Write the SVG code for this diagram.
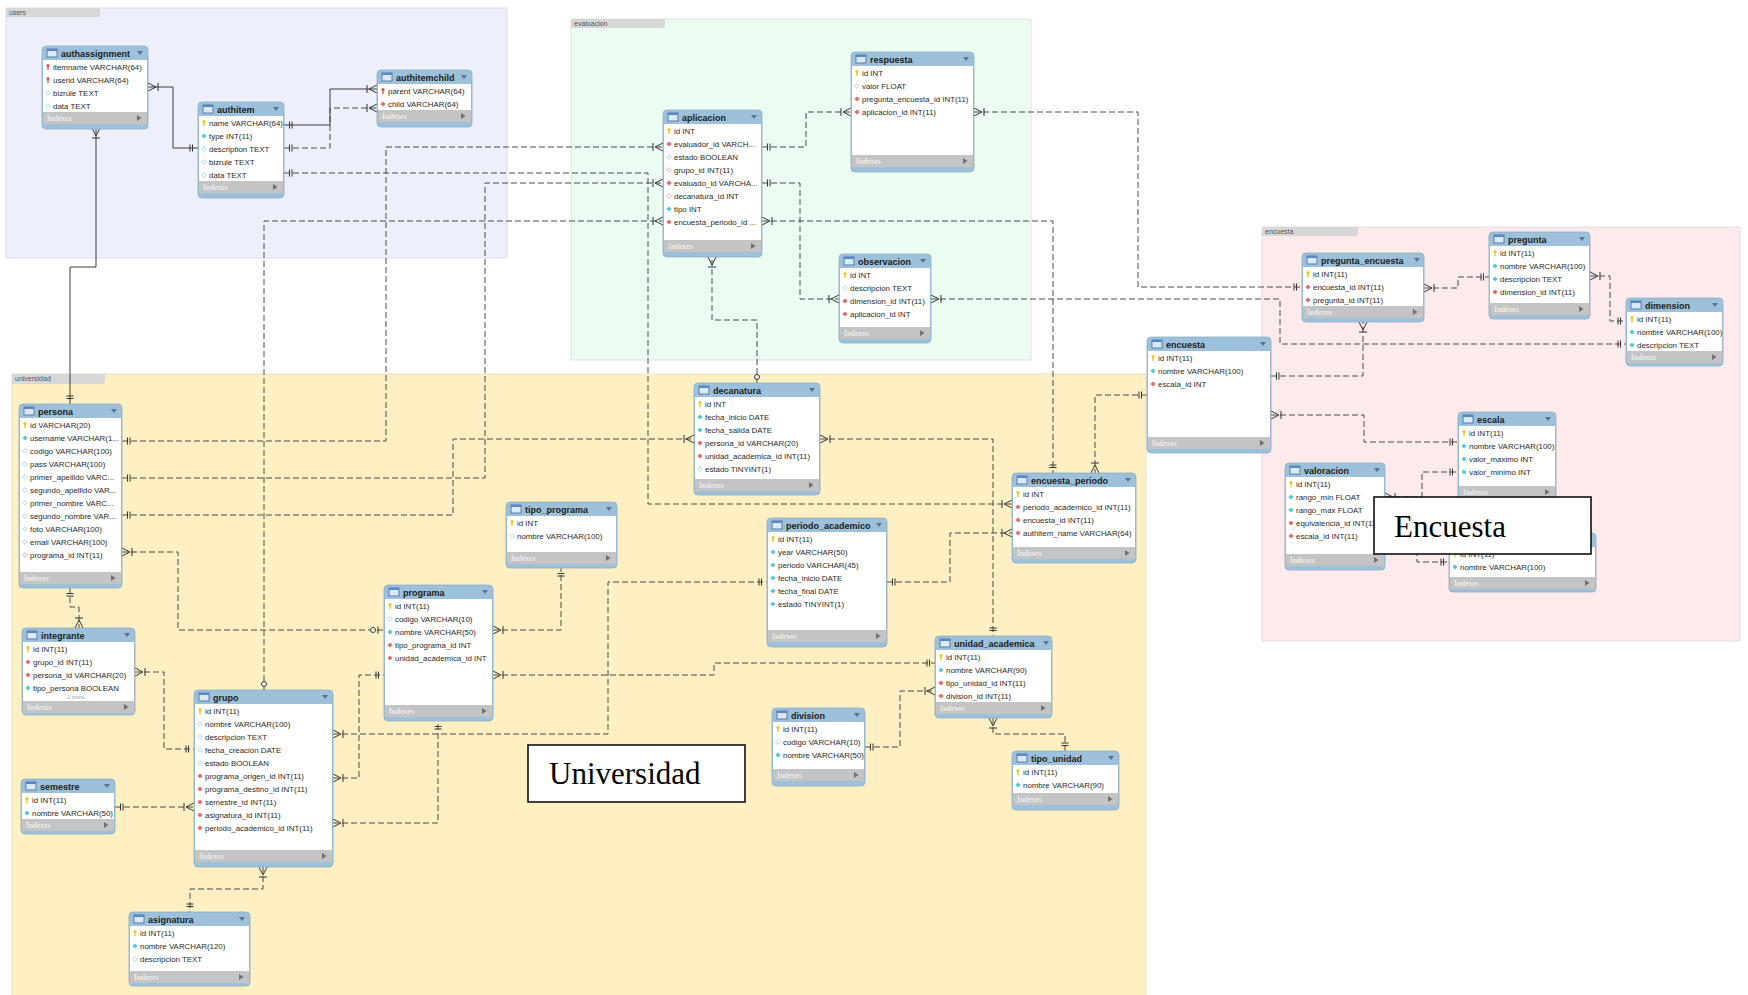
<svg xmlns="http://www.w3.org/2000/svg" xmlns:xlink="http://www.w3.org/1999/xlink" width="1748" height="995" viewBox="0 0 1748 995">
<defs>
<style>
.frame{fill:#9dc1da;stroke:#8eadc6;stroke-width:0.8}
.body{fill:#fff}
.idx{fill:#c4c4c4}
.t{font:bold 9px "Liberation Sans",Arial,sans-serif;fill:#1b1b1b}
.r{font:7.9px "Liberation Sans",Arial,sans-serif;fill:#2a2a2a}
.ix{font:bold 7.5px "Liberation Serif",serif;fill:#ececec}
.more{font:5.5px "Liberation Sans",sans-serif;fill:#999}
.lname{font:7px "Liberation Sans",sans-serif;fill:#555}
.tab{fill:#d7d7d7}
.rel{fill:none;stroke:#3c3c3c;stroke-width:1}
.dash{stroke:#4a4a4a;stroke-dasharray:6 3}
.note{fill:#fff;stroke:#111;stroke-width:1.6}
.note-t{font:31px "Liberation Serif","Times New Roman",serif;fill:#000}
</style>
<g id="ico-tbl"><rect x="0" y="0" width="10" height="8" fill="#dde8f7" stroke="#3d6aa8" stroke-width="0.8"/><rect x="0" y="0" width="10" height="2" fill="#5b86c0"/></g>
<path id="tri" d="M-3,-2H3L0,2Z" fill="#5d7286"/>
<path id="tri-r" d="M-2,-3V3L2.5,0Z" fill="#707070"/>
<g id="pk"><circle cx="0" cy="-1.5" r="1.6" fill="#f0c419"/><rect x="-0.7" y="-1" width="1.4" height="4.2" fill="#f0c419"/></g>
<g id="fkpk"><circle cx="0" cy="-1.5" r="1.6" fill="#e0554c"/><rect x="-0.7" y="-1" width="1.4" height="4.2" fill="#e0554c"/></g>
<path id="d-nn" d="M0,-2.6L2.6,0L0,2.6L-2.6,0Z" fill="#55c6d6"/>
<path id="d-nl" d="M0,-2.4L2.4,0L0,2.4L-2.4,0Z" fill="#fff" stroke="#86c9d2" stroke-width="0.7"/>
<path id="d-fk" d="M0,-2.6L2.6,0L0,2.6L-2.6,0Z" fill="#e36c6c"/>
<path id="d-fkn" d="M0,-2.4L2.4,0L0,2.4L-2.4,0Z" fill="#fff" stroke="#e08a8a" stroke-width="0.7"/>
<marker id="m-one" viewBox="-14 -6 16 12" refX="0" refY="0" markerWidth="16" markerHeight="12" markerUnits="userSpaceOnUse" orient="auto-start-reverse">
<path d="M-8,-3.5V3.5M-5.5,-3.5V3.5" fill="none" stroke="#333" stroke-width="1"/>
</marker>
<marker id="m-many" viewBox="-14 -6 16 12" refX="0" refY="0" markerWidth="16" markerHeight="12" markerUnits="userSpaceOnUse" orient="auto-start-reverse">
<path d="M-10,-4V4M-8,0L0,-4M-8,0L0,4" fill="none" stroke="#333" stroke-width="1"/>
</marker>
<marker id="m-zo" viewBox="-16 -6 18 12" refX="0" refY="0" markerWidth="18" markerHeight="12" markerUnits="userSpaceOnUse" orient="auto-start-reverse">
<circle cx="-11" cy="0" r="2.5" fill="#fff" stroke="#333" stroke-width="1"/><path d="M-6,-3.5V3.5" fill="none" stroke="#333" stroke-width="1"/>
</marker>
<marker id="m-opt" viewBox="-12 -6 14 12" refX="0" refY="0" markerWidth="14" markerHeight="12" markerUnits="userSpaceOnUse" orient="auto-start-reverse">
<circle cx="-6" cy="0" r="2.5" fill="#fff" stroke="#333" stroke-width="1"/>
</marker>
</defs>

<rect width="1748" height="995" fill="#fff"/>

<!-- layers -->
<g id="layer-users">
<rect x="6" y="8" width="501" height="250" fill="#edeffb" stroke="#dcdde8"/>
<path class="tab" d="M6,8H100V14Q100,17 97,17H6Z"/>
<text class="lname" x="9" y="15">users</text>
</g>
<g id="layer-evaluacion">
<rect x="571" y="19" width="460" height="341" fill="#ebfcf1" stroke="#dde6df"/>
<path class="tab" d="M571,19H665V25Q665,28 662,28H571Z"/>
<text class="lname" x="574" y="26">evaluacion</text>
</g>
<g id="layer-encuesta">
<rect x="1262" y="227" width="478" height="414" fill="#fdeaea" stroke="#e6dcdc"/>
<path class="tab" d="M1262,227H1358V233Q1358,236 1355,236H1262Z"/>
<text class="lname" x="1265" y="234">encuesta</text>
</g>
<g id="layer-universidad">
<rect x="12" y="374" width="1134" height="625" fill="#fef0c2" stroke="#e6e0cc"/>
<path class="tab" d="M12,374H105V380Q105,384 102,384H12Z"/>
<text class="lname" x="15" y="381">universidad</text>
</g>

<!-- relationships -->
<g id="connectors">
<path class="rel" d="M148,87H173V148H198" marker-start="url(#m-many)" marker-end="url(#m-one)"/>
<path class="rel" d="M284,125H330V89H377" marker-start="url(#m-one)" marker-end="url(#m-many)"/>
<path class="rel dash" d="M284,148H330V108H377" marker-start="url(#m-one)" marker-end="url(#m-many)"/>
<path class="rel" d="M96,128V267H70V404" marker-start="url(#m-many)" marker-end="url(#m-one)"/>
<path class="rel dash" d="M284,173H648V504H1012" marker-start="url(#m-one)" marker-end="url(#m-many)"/>
<path class="rel dash" d="M122,441H386V147H663" marker-start="url(#m-one)" marker-end="url(#m-many)"/>
<path class="rel dash" d="M122,478H485V183H663" marker-start="url(#m-one)" marker-end="url(#m-many)"/>
<path class="rel dash" d="M122,515H453V439H694" marker-start="url(#m-one)" marker-end="url(#m-many)"/>
<path class="rel dash" d="M264,690V221H663" marker-start="url(#m-opt)" marker-end="url(#m-many)"/>
<path class="rel dash" d="M122,552H178V630H384" marker-start="url(#m-many)" marker-end="url(#m-zo)"/>
<path class="rel dash" d="M70,588V607H79V628" marker-start="url(#m-one)" marker-end="url(#m-many)"/>
<path class="rel dash" d="M135,672H164V749H194" marker-start="url(#m-many)" marker-end="url(#m-one)"/>
<path class="rel dash" d="M115,807H194" marker-start="url(#m-one)" marker-end="url(#m-many)"/>
<path class="rel dash" d="M263,867V889H190V912" marker-start="url(#m-many)" marker-end="url(#m-one)"/>
<path class="rel dash" d="M333,734H608V582H767" marker-start="url(#m-many)" marker-end="url(#m-one)"/>
<path class="rel dash" d="M333,778H359V675H384" marker-start="url(#m-many)" marker-end="url(#m-one)"/>
<path class="rel dash" d="M333,823H438V721" marker-start="url(#m-many)" marker-end="url(#m-one)"/>
<path class="rel dash" d="M493,630H561V568" marker-start="url(#m-many)" marker-end="url(#m-one)"/>
<path class="rel dash" d="M493,675H714V663H935" marker-start="url(#m-many)" marker-end="url(#m-one)"/>
<path class="rel dash" d="M865,747H900V691H935" marker-start="url(#m-one)" marker-end="url(#m-many)"/>
<path class="rel dash" d="M993,718V734H1065V751" marker-start="url(#m-many)" marker-end="url(#m-one)"/>
<path class="rel dash" d="M820,439H993V636" marker-start="url(#m-many)" marker-end="url(#m-one)"/>
<path class="rel dash" d="M757,383V320H712V257" marker-start="url(#m-opt)" marker-end="url(#m-many)"/>
<path class="rel dash" d="M762,147H806V112H851" marker-start="url(#m-one)" marker-end="url(#m-many)"/>
<path class="rel dash" d="M762,183H800V299H839" marker-start="url(#m-one)" marker-end="url(#m-many)"/>
<path class="rel dash" d="M762,221H1053V473" marker-start="url(#m-many)" marker-end="url(#m-one)"/>
<path class="rel dash" d="M974,112H1138V287H1302" marker-start="url(#m-many)" marker-end="url(#m-one)"/>
<path class="rel dash" d="M931,299H1280V344H1626" marker-start="url(#m-many)" marker-end="url(#m-one)"/>
<path class="rel dash" d="M887,582H950V533H1012" marker-start="url(#m-one)" marker-end="url(#m-many)"/>
<path class="rel dash" d="M1147,395H1095V473" marker-start="url(#m-one)" marker-end="url(#m-many)"/>
<path class="rel dash" d="M1271,376H1363V322" marker-start="url(#m-one)" marker-end="url(#m-many)"/>
<path class="rel dash" d="M1424,288H1458V277H1489" marker-start="url(#m-many)" marker-end="url(#m-one)"/>
<path class="rel dash" d="M1590,276H1610V321H1626" marker-start="url(#m-many)" marker-end="url(#m-one)"/>
<path class="rel dash" d="M1271,415H1364V442H1458" marker-start="url(#m-many)" marker-end="url(#m-one)"/>
<path class="rel dash" d="M1385,497H1422V472H1458" marker-start="url(#m-many)" marker-end="url(#m-one)"/>
<path class="rel dash" d="M1385,510H1417V562H1449" marker-start="url(#m-many)" marker-end="url(#m-one)"/>
</g>

<!-- tables -->
<g id="tbl-authassignment" transform="translate(42,46)">
<rect class="frame" width="106" height="83" rx="4"/>
<rect class="body" x="1" y="14" width="104" height="52"/>
<rect class="idx" x="1" y="66" width="104" height="12"/>
<use href="#ico-tbl" x="5" y="3"/><text class="t" x="19" y="10.5">authassignment</text><use href="#tri" x="98" y="7"/>
<use href="#fkpk" x="6" y="21"/><text class="r" x="11" y="23.8">itemname VARCHAR(64)</text>
<use href="#fkpk" x="6" y="34"/><text class="r" x="11" y="36.8">userid VARCHAR(64)</text>
<use href="#d-nl" x="6" y="47"/><text class="r" x="11" y="49.8">bizrule TEXT</text>
<use href="#d-nl" x="6" y="60"/><text class="r" x="11" y="62.8">data TEXT</text>
<text class="ix" x="5" y="75">Indexes</text><use href="#tri-r" x="97" y="72"/>
</g>

<g id="tbl-authitem" transform="translate(198,102)">
<rect class="frame" width="86" height="96" rx="4"/>
<rect class="body" x="1" y="14" width="84" height="65"/>
<rect class="idx" x="1" y="79" width="84" height="12"/>
<use href="#ico-tbl" x="5" y="3"/><text class="t" x="19" y="10.5">authitem</text><use href="#tri" x="78" y="7"/>
<use href="#pk" x="6" y="21"/><text class="r" x="11" y="23.8">name VARCHAR(64)</text>
<use href="#d-nn" x="6" y="34"/><text class="r" x="11" y="36.8">type INT(11)</text>
<use href="#d-nl" x="6" y="47"/><text class="r" x="11" y="49.8">description TEXT</text>
<use href="#d-nl" x="6" y="60"/><text class="r" x="11" y="62.8">bizrule TEXT</text>
<use href="#d-nl" x="6" y="73"/><text class="r" x="11" y="75.8">data TEXT</text>
<text class="ix" x="5" y="88">Indexes</text><use href="#tri-r" x="77" y="85"/>
</g>

<g id="tbl-authitemchild" transform="translate(377,70)">
<rect class="frame" width="95" height="57" rx="4"/>
<rect class="body" x="1" y="14" width="93" height="26"/>
<rect class="idx" x="1" y="40" width="93" height="12"/>
<use href="#ico-tbl" x="5" y="3"/><text class="t" x="19" y="10.5">authitemchild</text><use href="#tri" x="87" y="7"/>
<use href="#fkpk" x="6" y="21"/><text class="r" x="11" y="23.8">parent VARCHAR(64)</text>
<use href="#d-fk" x="6" y="34"/><text class="r" x="11" y="36.8">child VARCHAR(64)</text>
<text class="ix" x="5" y="49">Indexes</text><use href="#tri-r" x="86" y="46"/>
</g>

<g id="tbl-respuesta" transform="translate(851,52)">
<rect class="frame" width="123" height="120" rx="4"/>
<rect class="body" x="1" y="14" width="121" height="89"/>
<rect class="idx" x="1" y="103" width="121" height="12"/>
<use href="#ico-tbl" x="5" y="3"/><text class="t" x="19" y="10.5">respuesta</text><use href="#tri" x="115" y="7"/>
<use href="#pk" x="6" y="21"/><text class="r" x="11" y="23.8">id INT</text>
<use href="#d-nl" x="6" y="34"/><text class="r" x="11" y="36.8">valor FLOAT</text>
<use href="#d-fk" x="6" y="47"/><text class="r" x="11" y="49.8">pregunta_encuesta_id INT(11)</text>
<use href="#d-fk" x="6" y="60"/><text class="r" x="11" y="62.8">aplicacion_id INT(11)</text>
<text class="ix" x="5" y="112">Indexes</text><use href="#tri-r" x="114" y="109"/>
</g>

<g id="tbl-aplicacion" transform="translate(663,110)">
<rect class="frame" width="99" height="147" rx="4"/>
<rect class="body" x="1" y="14" width="97" height="116"/>
<rect class="idx" x="1" y="130" width="97" height="12"/>
<use href="#ico-tbl" x="5" y="3"/><text class="t" x="19" y="10.5">aplicacion</text><use href="#tri" x="91" y="7"/>
<use href="#pk" x="6" y="21"/><text class="r" x="11" y="23.8">id INT</text>
<use href="#d-fk" x="6" y="34"/><text class="r" x="11" y="36.8">evaluador_id VARCH...</text>
<use href="#d-nl" x="6" y="47"/><text class="r" x="11" y="49.8">estado BOOLEAN</text>
<use href="#d-fkn" x="6" y="60"/><text class="r" x="11" y="62.8">grupo_id INT(11)</text>
<use href="#d-fk" x="6" y="73"/><text class="r" x="11" y="75.8">evaluado_id VARCHA...</text>
<use href="#d-fkn" x="6" y="86"/><text class="r" x="11" y="88.8">decanatura_id INT</text>
<use href="#d-nn" x="6" y="99"/><text class="r" x="11" y="101.8">tipo INT</text>
<use href="#d-fk" x="6" y="112"/><text class="r" x="11" y="114.8">encuesta_periodo_id ...</text>
<text class="ix" x="5" y="139">Indexes</text><use href="#tri-r" x="90" y="136"/>
</g>

<g id="tbl-observacion" transform="translate(839,254)">
<rect class="frame" width="92" height="89" rx="4"/>
<rect class="body" x="1" y="14" width="90" height="59"/>
<rect class="idx" x="1" y="73" width="90" height="12"/>
<use href="#ico-tbl" x="5" y="3"/><text class="t" x="19" y="10.5">observacion</text><use href="#tri" x="84" y="7"/>
<use href="#pk" x="6" y="21"/><text class="r" x="11" y="23.8">id INT</text>
<use href="#d-nl" x="6" y="34"/><text class="r" x="11" y="36.8">descripcion TEXT</text>
<use href="#d-fk" x="6" y="47"/><text class="r" x="11" y="49.8">dimension_id INT(11)</text>
<use href="#d-fk" x="6" y="60"/><text class="r" x="11" y="62.8">aplicacion_id INT</text>
<text class="ix" x="5" y="82">Indexes</text><use href="#tri-r" x="83" y="79"/>
</g>

<g id="tbl-persona" transform="translate(19,404)">
<rect class="frame" width="103" height="184" rx="4"/>
<rect class="body" x="1" y="14" width="101" height="154"/>
<rect class="idx" x="1" y="168" width="101" height="12"/>
<use href="#ico-tbl" x="5" y="3"/><text class="t" x="19" y="10.5">persona</text><use href="#tri" x="95" y="7"/>
<use href="#pk" x="6" y="21"/><text class="r" x="11" y="23.8">id VARCHAR(20)</text>
<use href="#d-nn" x="6" y="34"/><text class="r" x="11" y="36.8">username VARCHAR(1...</text>
<use href="#d-nl" x="6" y="47"/><text class="r" x="11" y="49.8">codigo VARCHAR(100)</text>
<use href="#d-nl" x="6" y="60"/><text class="r" x="11" y="62.8">pass VARCHAR(100)</text>
<use href="#d-nl" x="6" y="73"/><text class="r" x="11" y="75.8">primer_apellido VARC...</text>
<use href="#d-nl" x="6" y="86"/><text class="r" x="11" y="88.8">segundo_apellido VAR...</text>
<use href="#d-nl" x="6" y="99"/><text class="r" x="11" y="101.8">primer_nombre VARC...</text>
<use href="#d-nl" x="6" y="112"/><text class="r" x="11" y="114.8">segundo_nombre VAR...</text>
<use href="#d-nl" x="6" y="125"/><text class="r" x="11" y="127.8">foto VARCHAR(100)</text>
<use href="#d-nl" x="6" y="138"/><text class="r" x="11" y="140.8">email VARCHAR(100)</text>
<use href="#d-fkn" x="6" y="151"/><text class="r" x="11" y="153.8">programa_id INT(11)</text>
<text class="ix" x="5" y="177">Indexes</text><use href="#tri-r" x="94" y="174"/>
</g>

<g id="tbl-integrante" transform="translate(22,628)">
<rect class="frame" width="113" height="87" rx="4"/>
<rect class="body" x="1" y="14" width="111" height="59"/>
<rect class="idx" x="1" y="73" width="111" height="12"/>
<use href="#ico-tbl" x="5" y="3"/><text class="t" x="19" y="10.5">integrante</text><use href="#tri" x="105" y="7"/>
<use href="#pk" x="6" y="21"/><text class="r" x="11" y="23.8">id INT(11)</text>
<use href="#d-fk" x="6" y="34"/><text class="r" x="11" y="36.8">grupo_id INT(11)</text>
<use href="#d-fk" x="6" y="47"/><text class="r" x="11" y="49.8">persona_id VARCHAR(20)</text>
<use href="#d-nn" x="6" y="60"/><text class="r" x="11" y="62.8">tipo_persona BOOLEAN</text>
<text class="more" x="56" y="71" text-anchor="middle">1 more...</text>
<text class="ix" x="5" y="82">Indexes</text><use href="#tri-r" x="104" y="79"/>
</g>

<g id="tbl-semestre" transform="translate(21,779)">
<rect class="frame" width="94" height="55" rx="4"/>
<rect class="body" x="1" y="14" width="92" height="26"/>
<rect class="idx" x="1" y="40" width="92" height="12"/>
<use href="#ico-tbl" x="5" y="3"/><text class="t" x="19" y="10.5">semestre</text><use href="#tri" x="86" y="7"/>
<use href="#pk" x="6" y="21"/><text class="r" x="11" y="23.8">id INT(11)</text>
<use href="#d-nn" x="6" y="34"/><text class="r" x="11" y="36.8">nombre VARCHAR(50)</text>
<text class="ix" x="5" y="49">Indexes</text><use href="#tri-r" x="85" y="46"/>
</g>

<g id="tbl-grupo" transform="translate(194,690)">
<rect class="frame" width="139" height="177" rx="4"/>
<rect class="body" x="1" y="14" width="137" height="146"/>
<rect class="idx" x="1" y="160" width="137" height="12"/>
<use href="#ico-tbl" x="5" y="3"/><text class="t" x="19" y="10.5">grupo</text><use href="#tri" x="131" y="7"/>
<use href="#pk" x="6" y="21"/><text class="r" x="11" y="23.8">id INT(11)</text>
<use href="#d-nl" x="6" y="34"/><text class="r" x="11" y="36.8">nombre VARCHAR(100)</text>
<use href="#d-nl" x="6" y="47"/><text class="r" x="11" y="49.8">descripcion TEXT</text>
<use href="#d-nl" x="6" y="60"/><text class="r" x="11" y="62.8">fecha_creacion DATE</text>
<use href="#d-nl" x="6" y="73"/><text class="r" x="11" y="75.8">estado BOOLEAN</text>
<use href="#d-fk" x="6" y="86"/><text class="r" x="11" y="88.8">programa_origen_id INT(11)</text>
<use href="#d-fk" x="6" y="99"/><text class="r" x="11" y="101.8">programa_destino_id INT(11)</text>
<use href="#d-fk" x="6" y="112"/><text class="r" x="11" y="114.8">semestre_id INT(11)</text>
<use href="#d-fk" x="6" y="125"/><text class="r" x="11" y="127.8">asignatura_id INT(11)</text>
<use href="#d-fk" x="6" y="138"/><text class="r" x="11" y="140.8">periodo_academico_id INT(11)</text>
<text class="ix" x="5" y="169">Indexes</text><use href="#tri-r" x="130" y="166"/>
</g>

<g id="tbl-asignatura" transform="translate(129,912)">
<rect class="frame" width="121" height="74" rx="4"/>
<rect class="body" x="1" y="14" width="119" height="45"/>
<rect class="idx" x="1" y="59" width="119" height="12"/>
<use href="#ico-tbl" x="5" y="3"/><text class="t" x="19" y="10.5">asignatura</text><use href="#tri" x="113" y="7"/>
<use href="#pk" x="6" y="21"/><text class="r" x="11" y="23.8">id INT(11)</text>
<use href="#d-nn" x="6" y="34"/><text class="r" x="11" y="36.8">nombre VARCHAR(120)</text>
<use href="#d-nl" x="6" y="47"/><text class="r" x="11" y="49.8">descripcion TEXT</text>
<text class="ix" x="5" y="68">Indexes</text><use href="#tri-r" x="112" y="65"/>
</g>

<g id="tbl-programa" transform="translate(384,585)">
<rect class="frame" width="109" height="136" rx="4"/>
<rect class="body" x="1" y="14" width="107" height="106"/>
<rect class="idx" x="1" y="120" width="107" height="12"/>
<use href="#ico-tbl" x="5" y="3"/><text class="t" x="19" y="10.5">programa</text><use href="#tri" x="101" y="7"/>
<use href="#pk" x="6" y="21"/><text class="r" x="11" y="23.8">id INT(11)</text>
<use href="#d-nl" x="6" y="34"/><text class="r" x="11" y="36.8">codigo VARCHAR(10)</text>
<use href="#d-nn" x="6" y="47"/><text class="r" x="11" y="49.8">nombre VARCHAR(50)</text>
<use href="#d-fk" x="6" y="60"/><text class="r" x="11" y="62.8">tipo_programa_id INT</text>
<use href="#d-fk" x="6" y="73"/><text class="r" x="11" y="75.8">unidad_academica_id INT</text>
<text class="ix" x="5" y="129">Indexes</text><use href="#tri-r" x="100" y="126"/>
</g>

<g id="tbl-tipo_programa" transform="translate(506,502)">
<rect class="frame" width="111" height="66" rx="4"/>
<rect class="body" x="1" y="14" width="109" height="36"/>
<rect class="idx" x="1" y="50" width="109" height="12"/>
<use href="#ico-tbl" x="5" y="3"/><text class="t" x="19" y="10.5">tipo_programa</text><use href="#tri" x="103" y="7"/>
<use href="#pk" x="6" y="21"/><text class="r" x="11" y="23.8">id INT</text>
<use href="#d-nl" x="6" y="34"/><text class="r" x="11" y="36.8">nombre VARCHAR(100)</text>
<text class="ix" x="5" y="59">Indexes</text><use href="#tri-r" x="102" y="56"/>
</g>

<g id="tbl-decanatura" transform="translate(694,383)">
<rect class="frame" width="126" height="112" rx="4"/>
<rect class="body" x="1" y="14" width="124" height="82"/>
<rect class="idx" x="1" y="96" width="124" height="12"/>
<use href="#ico-tbl" x="5" y="3"/><text class="t" x="19" y="10.5">decanatura</text><use href="#tri" x="118" y="7"/>
<use href="#pk" x="6" y="21"/><text class="r" x="11" y="23.8">id INT</text>
<use href="#d-nn" x="6" y="34"/><text class="r" x="11" y="36.8">fecha_inicio DATE</text>
<use href="#d-nn" x="6" y="47"/><text class="r" x="11" y="49.8">fecha_salida DATE</text>
<use href="#d-fk" x="6" y="60"/><text class="r" x="11" y="62.8">persona_id VARCHAR(20)</text>
<use href="#d-fk" x="6" y="73"/><text class="r" x="11" y="75.8">unidad_academica_id INT(11)</text>
<use href="#d-nl" x="6" y="86"/><text class="r" x="11" y="88.8">estado TINYINT(1)</text>
<text class="ix" x="5" y="105">Indexes</text><use href="#tri-r" x="117" y="102"/>
</g>

<g id="tbl-periodo_academico" transform="translate(767,518)">
<rect class="frame" width="120" height="129" rx="4"/>
<rect class="body" x="1" y="14" width="118" height="98"/>
<rect class="idx" x="1" y="112" width="118" height="12"/>
<use href="#ico-tbl" x="5" y="3"/><text class="t" x="19" y="10.5">periodo_academico</text><use href="#tri" x="112" y="7"/>
<use href="#pk" x="6" y="21"/><text class="r" x="11" y="23.8">id INT(11)</text>
<use href="#d-nn" x="6" y="34"/><text class="r" x="11" y="36.8">year VARCHAR(50)</text>
<use href="#d-nn" x="6" y="47"/><text class="r" x="11" y="49.8">periodo VARCHAR(45)</text>
<use href="#d-nn" x="6" y="60"/><text class="r" x="11" y="62.8">fecha_inicio DATE</text>
<use href="#d-nn" x="6" y="73"/><text class="r" x="11" y="75.8">fecha_final DATE</text>
<use href="#d-nn" x="6" y="86"/><text class="r" x="11" y="88.8">estado TINYINT(1)</text>
<text class="ix" x="5" y="121">Indexes</text><use href="#tri-r" x="111" y="118"/>
</g>

<g id="tbl-encuesta_periodo" transform="translate(1012,473)">
<rect class="frame" width="124" height="90" rx="4"/>
<rect class="body" x="1" y="14" width="122" height="60"/>
<rect class="idx" x="1" y="74" width="122" height="12"/>
<use href="#ico-tbl" x="5" y="3"/><text class="t" x="19" y="10.5">encuesta_periodo</text><use href="#tri" x="116" y="7"/>
<use href="#pk" x="6" y="21"/><text class="r" x="11" y="23.8">id INT</text>
<use href="#d-fk" x="6" y="34"/><text class="r" x="11" y="36.8">periodo_academico_id INT(11)</text>
<use href="#d-fk" x="6" y="47"/><text class="r" x="11" y="49.8">encuesta_id INT(11)</text>
<use href="#d-fk" x="6" y="60"/><text class="r" x="11" y="62.8">authitem_name VARCHAR(64)</text>
<text class="ix" x="5" y="83">Indexes</text><use href="#tri-r" x="115" y="80"/>
</g>

<g id="tbl-unidad_academica" transform="translate(935,636)">
<rect class="frame" width="117" height="82" rx="4"/>
<rect class="body" x="1" y="14" width="115" height="52"/>
<rect class="idx" x="1" y="66" width="115" height="12"/>
<use href="#ico-tbl" x="5" y="3"/><text class="t" x="19" y="10.5">unidad_academica</text><use href="#tri" x="111" y="7"/>
<use href="#pk" x="6" y="21"/><text class="r" x="11" y="23.8">id INT(11)</text>
<use href="#d-nn" x="6" y="34"/><text class="r" x="11" y="36.8">nombre VARCHAR(90)</text>
<use href="#d-fk" x="6" y="47"/><text class="r" x="11" y="49.8">tipo_unidad_id INT(11)</text>
<use href="#d-fk" x="6" y="60"/><text class="r" x="11" y="62.8">division_id INT(11)</text>
<text class="ix" x="5" y="75">Indexes</text><use href="#tri-r" x="108" y="72"/>
</g>

<g id="tbl-division" transform="translate(772,708)">
<rect class="frame" width="93" height="78" rx="4"/>
<rect class="body" x="1" y="14" width="91" height="47"/>
<rect class="idx" x="1" y="61" width="91" height="12"/>
<use href="#ico-tbl" x="5" y="3"/><text class="t" x="19" y="10.5">division</text><use href="#tri" x="85" y="7"/>
<use href="#pk" x="6" y="21"/><text class="r" x="11" y="23.8">id INT(11)</text>
<use href="#d-nl" x="6" y="34"/><text class="r" x="11" y="36.8">codigo VARCHAR(10)</text>
<use href="#d-nn" x="6" y="47"/><text class="r" x="11" y="49.8">nombre VARCHAR(50)</text>
<text class="ix" x="5" y="70">Indexes</text><use href="#tri-r" x="84" y="67"/>
</g>

<g id="tbl-tipo_unidad" transform="translate(1012,751)">
<rect class="frame" width="107" height="59" rx="4"/>
<rect class="body" x="1" y="14" width="105" height="28"/>
<rect class="idx" x="1" y="42" width="105" height="12"/>
<use href="#ico-tbl" x="5" y="3"/><text class="t" x="19" y="10.5">tipo_unidad</text><use href="#tri" x="99" y="7"/>
<use href="#pk" x="6" y="21"/><text class="r" x="11" y="23.8">id INT(11)</text>
<use href="#d-nn" x="6" y="34"/><text class="r" x="11" y="36.8">nombre VARCHAR(90)</text>
<text class="ix" x="5" y="51">Indexes</text><use href="#tri-r" x="98" y="48"/>
</g>

<g id="tbl-encuesta" transform="translate(1147,337)">
<rect class="frame" width="124" height="116" rx="4"/>
<rect class="body" x="1" y="14" width="122" height="86"/>
<rect class="idx" x="1" y="100" width="122" height="12"/>
<use href="#ico-tbl" x="5" y="3"/><text class="t" x="19" y="10.5">encuesta</text><use href="#tri" x="116" y="7"/>
<use href="#pk" x="6" y="21"/><text class="r" x="11" y="23.8">id INT(11)</text>
<use href="#d-nn" x="6" y="34"/><text class="r" x="11" y="36.8">nombre VARCHAR(100)</text>
<use href="#d-fk" x="6" y="47"/><text class="r" x="11" y="49.8">escala_id INT</text>
<text class="ix" x="5" y="109">Indexes</text><use href="#tri-r" x="115" y="106"/>
</g>

<g id="tbl-pregunta_encuesta" transform="translate(1302,253)">
<rect class="frame" width="122" height="69" rx="4"/>
<rect class="body" x="1" y="14" width="120" height="39"/>
<rect class="idx" x="1" y="53" width="120" height="12"/>
<use href="#ico-tbl" x="5" y="3"/><text class="t" x="19" y="10.5">pregunta_encuesta</text><use href="#tri" x="115" y="7"/>
<use href="#pk" x="6" y="21"/><text class="r" x="11" y="23.8">id INT(11)</text>
<use href="#d-fk" x="6" y="34"/><text class="r" x="11" y="36.8">encuesta_id INT(11)</text>
<use href="#d-fk" x="6" y="47"/><text class="r" x="11" y="49.8">pregunta_id INT(11)</text>
<text class="ix" x="5" y="62">Indexes</text><use href="#tri-r" x="113" y="59"/>
</g>

<g id="tbl-pregunta" transform="translate(1489,232)">
<rect class="frame" width="101" height="87" rx="4"/>
<rect class="body" x="1" y="14" width="99" height="57"/>
<rect class="idx" x="1" y="71" width="99" height="12"/>
<use href="#ico-tbl" x="5" y="3"/><text class="t" x="19" y="10.5">pregunta</text><use href="#tri" x="93" y="7"/>
<use href="#pk" x="6" y="21"/><text class="r" x="11" y="23.8">id INT(11)</text>
<use href="#d-nn" x="6" y="34"/><text class="r" x="11" y="36.8">nombre VARCHAR(100)</text>
<use href="#d-nn" x="6" y="47"/><text class="r" x="11" y="49.8">descripcion TEXT</text>
<use href="#d-fk" x="6" y="60"/><text class="r" x="11" y="62.8">dimension_id INT(11)</text>
<text class="ix" x="5" y="80">Indexes</text><use href="#tri-r" x="92" y="77"/>
</g>

<g id="tbl-dimension" transform="translate(1626,298)">
<rect class="frame" width="97" height="68" rx="4"/>
<rect class="body" x="1" y="14" width="95" height="39"/>
<rect class="idx" x="1" y="53" width="95" height="12"/>
<use href="#ico-tbl" x="5" y="3"/><text class="t" x="19" y="10.5">dimension</text><use href="#tri" x="89" y="7"/>
<use href="#pk" x="6" y="21"/><text class="r" x="11" y="23.8">id INT(11)</text>
<use href="#d-nn" x="6" y="34"/><text class="r" x="11" y="36.8">nombre VARCHAR(100)</text>
<use href="#d-nn" x="6" y="47"/><text class="r" x="11" y="49.8">descripcion TEXT</text>
<text class="ix" x="5" y="62">Indexes</text><use href="#tri-r" x="88" y="59"/>
</g>

<g id="tbl-escala" transform="translate(1458,412)">
<rect class="frame" width="98" height="90" rx="4"/>
<rect class="body" x="1" y="14" width="96" height="60"/>
<rect class="idx" x="1" y="74" width="96" height="12"/>
<use href="#ico-tbl" x="5" y="3"/><text class="t" x="19" y="10.5">escala</text><use href="#tri" x="90" y="7"/>
<use href="#pk" x="6" y="21"/><text class="r" x="11" y="23.8">id INT(11)</text>
<use href="#d-nn" x="6" y="34"/><text class="r" x="11" y="36.8">nombre VARCHAR(100)</text>
<use href="#d-nn" x="6" y="47"/><text class="r" x="11" y="49.8">valor_maximo INT</text>
<use href="#d-nn" x="6" y="60"/><text class="r" x="11" y="62.8">valor_minimo INT</text>
<text class="ix" x="5" y="83">Indexes</text><use href="#tri-r" x="89" y="80"/>
</g>

<g id="tbl-valoracion" transform="translate(1285,463)">
<rect class="frame" width="100" height="107" rx="4"/>
<rect class="body" x="1" y="14" width="98" height="77"/>
<rect class="idx" x="1" y="91" width="98" height="12"/>
<use href="#ico-tbl" x="5" y="3"/><text class="t" x="19" y="10.5">valoracion</text><use href="#tri" x="92" y="7"/>
<use href="#pk" x="6" y="21"/><text class="r" x="11" y="23.8">id INT(11)</text>
<use href="#d-nn" x="6" y="34"/><text class="r" x="11" y="36.8">rango_min FLOAT</text>
<use href="#d-nn" x="6" y="47"/><text class="r" x="11" y="49.8">rango_max FLOAT</text>
<use href="#d-fk" x="6" y="60"/><text class="r" x="11" y="62.8">equivalencia_id INT(11)</text>
<use href="#d-fk" x="6" y="73"/><text class="r" x="11" y="75.8">escala_id INT(11)</text>
<text class="ix" x="5" y="100">Indexes</text><use href="#tri-r" x="91" y="97"/>
</g>

<g id="tbl-equivalencia" transform="translate(1449,533)">
<rect class="frame" width="147" height="59" rx="4"/>
<rect class="body" x="1" y="14" width="145" height="30"/>
<rect class="idx" x="1" y="44" width="145" height="12"/>
<use href="#pk" x="6" y="21"/><text class="r" x="11" y="23.8">id INT(11)</text>
<use href="#d-nn" x="6" y="34"/><text class="r" x="11" y="36.8">nombre VARCHAR(100)</text>
<text class="ix" x="5" y="53">Indexes</text><use href="#tri-r" x="138" y="50"/>
</g>

<!-- captions -->
<g id="note-universidad">
<rect class="note" x="528" y="745" width="217" height="57"/>
<text class="note-t" x="549" y="784">Universidad</text>
</g>
<g id="note-encuesta">
<rect class="note" x="1374" y="497" width="217" height="57"/>
<text class="note-t" x="1394" y="537">Encuesta</text>
</g>
</svg>
